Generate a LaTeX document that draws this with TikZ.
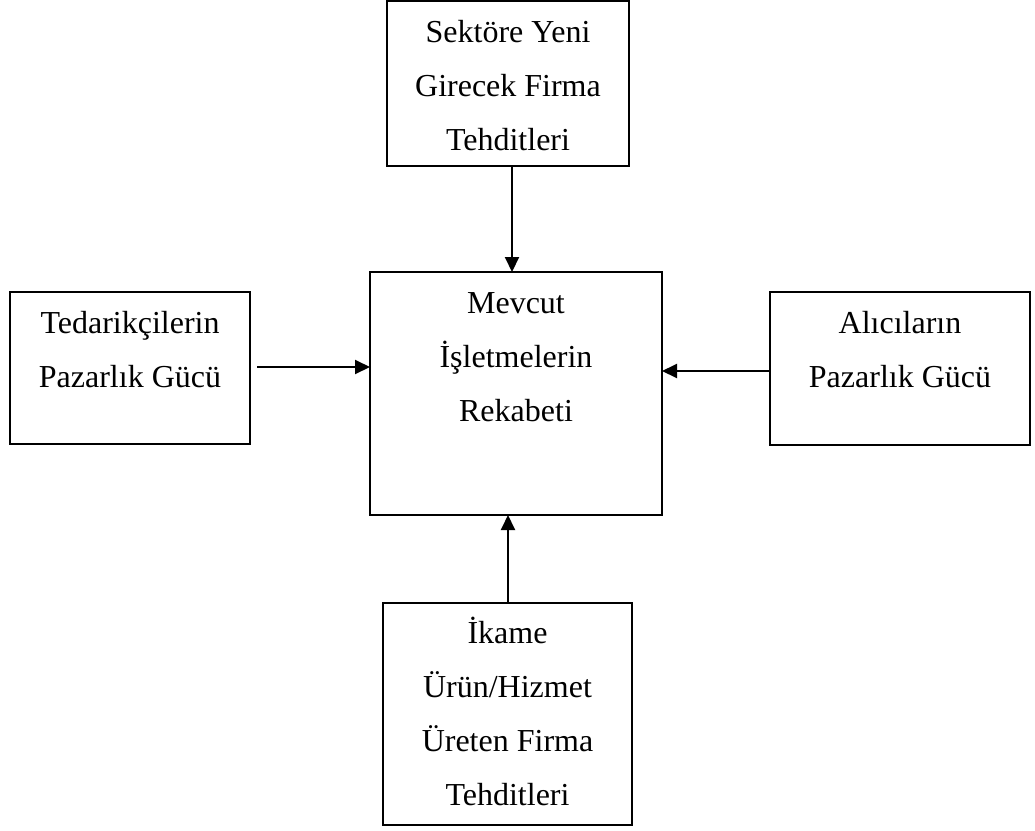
\documentclass[tikz,border=0pt]{standalone}
\usepackage{fontspec}
\setmainfont{Liberation Serif}
\usetikzlibrary{arrows.meta}
\newcommand{\fl}{\rule{0pt}{30pt}}
\begin{document}
\begin{tikzpicture}[x=1pt,y=-1pt,
  box/.style={draw,line width=2pt,inner sep=0pt,outer sep=0pt,rectangle},
  lbl/.style={inner sep=0pt,align=center,anchor=north,font=\fontsize{32}{54}\selectfont},
  arr/.style={line width=2pt,-{Triangle[length=15pt,width=14pt]}}]
\useasboundingbox (0,0) rectangle (1035,830);
% boxes
\node[box,minimum width=242pt,minimum height=165pt] (top) at (508,83.5) {};
\node[box,minimum width=292pt,minimum height=243pt] (mid) at (516,393.5) {};
\node[box,minimum width=240pt,minimum height=152pt] (left) at (130,368) {};
\node[box,minimum width=260pt,minimum height=153pt] (right) at (900,368.5) {};
\node[box,minimum width=249pt,minimum height=222pt] (bot) at (507.5,714) {};
% texts
\node[lbl] (ttop) at (508,12) {\fl Sektöre Yeni\\Girecek Firma\\Tehditleri};
\node[lbl] (tmid) at (516,283) {\fl Mevcut\\İşletmelerin\\Rekabeti};
\node[lbl] (tleft) at (130,303) {\fl Tedarikçilerin\\Pazarlık Gücü};
\node[lbl] (tright) at (900,303) {\fl Alıcıların\\Pazarlık Gücü};
\node[lbl] (tbot) at (507.5,613) {\fl İkame\\Ürün/Hizmet\\Üreten Firma\\Tehditleri};
% connectors
\coordinate (ax) at (512,0);
\coordinate (bx) at (508,0);
\coordinate (ly) at (0,367);
\coordinate (ry) at (0,371);
\draw[arr] (top.south -| ax) -- (mid.north -| ax);
\draw[arr] ([xshift=7pt]left.east |- ly) -- (mid.west |- ly);
\draw[arr] (right.west |- ry) -- (mid.east |- ry);
\draw[arr] (bot.north -| bx) -- (mid.south -| bx);
\end{tikzpicture}
\end{document}
